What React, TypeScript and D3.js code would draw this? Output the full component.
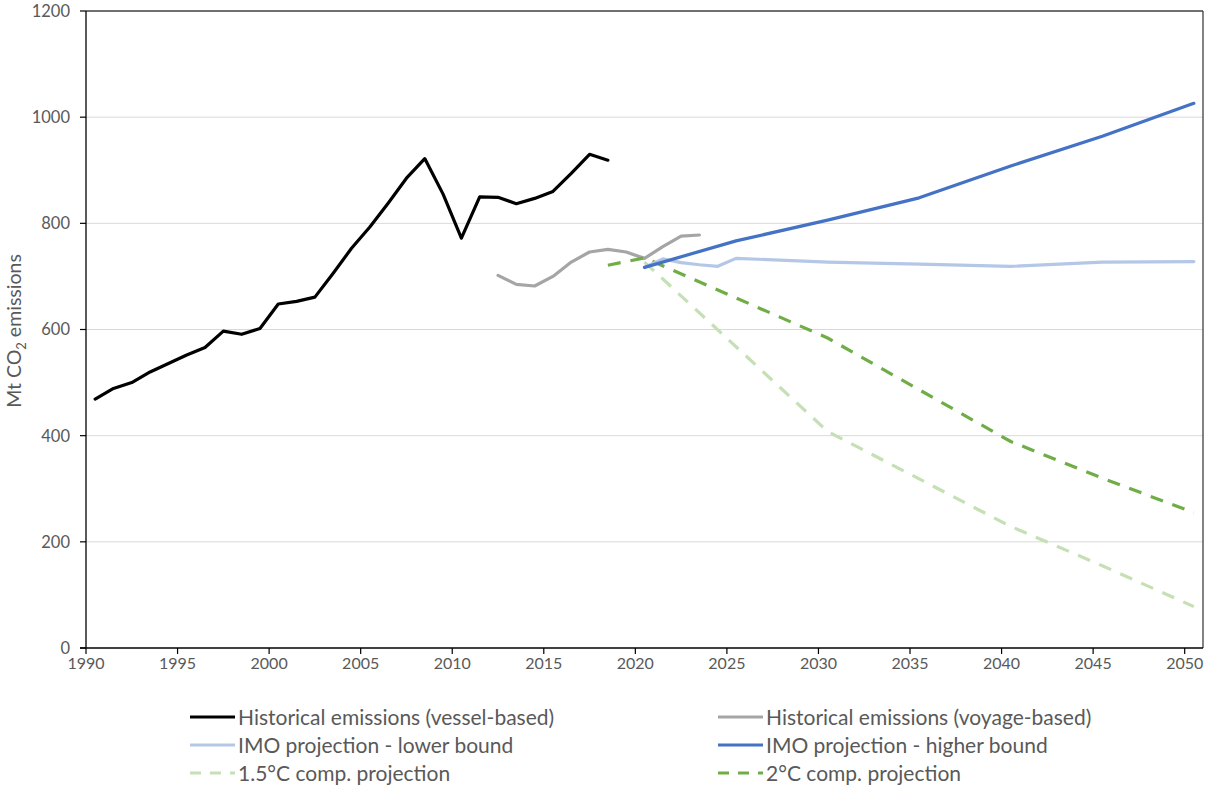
import React from "react";
import * as d3 from "d3";

type Pt = { year: number; value: number };

const vesselYears = [1990,1991,1992,1993,1994,1995,1996,1997,1998,1999,2000,2001,2002,2003,2004,2005,2006,2007,2008,2009,2010,2011,2012,2013,2014,2015,2016,2017,2018];
const vesselValues = [469,489,500,520,536,552,566,597,591,602,648,653,661,706,753,793,838,885,922,855,772,850,849,837,847,860,894,930,919];

const voyageYears = [2012,2013,2014,2015,2016,2017,2018,2019,2020,2021,2022,2023];
const voyageValues = [702,685,682,700,727,746,751,746,734,756,776,778];

const imoLowYears = [2020,2021,2022,2023,2024,2025,2030,2035,2040,2045,2050];
const imoLowValues = [717,733,726,722,719,734,727,723,719,727,728];

const imoHighYears = [2020,2025,2030,2035,2040,2045,2050];
const imoHighValues = [717,767,806,848,908,964,1026];

const c15Years = [2020,2030,2040,2045,2050];
const c15Values = [727,408,229,155,78];

const c2Years = [2018,2020,2030,2040,2045,2050];
const c2Values = [721,735,584,389,320,255];

const yTicks = [0,200,400,600,800,1000,1200];
const xTicks = [1990,1995,2000,2005,2010,2015,2020,2025,2030,2035,2040,2045,2050];

const zip = (ys: number[], vs: number[]): Pt[] => ys.map((y, i) => ({ year: y, value: vs[i] }));

const series = [
  { name: "Historical emissions (vessel-based)", data: zip(vesselYears, vesselValues), color: "#000000", dash: "", width: 3.2 },
  { name: "Historical emissions (voyage-based)", data: zip(voyageYears, voyageValues), color: "#A5A5A5", dash: "", width: 3.2 },
  { name: "IMO projection - lower bound", data: zip(imoLowYears, imoLowValues), color: "#B4C7E7", dash: "", width: 3.2 },
  { name: "IMO projection - higher bound", data: zip(imoHighYears, imoHighValues), color: "#4472C4", dash: "", width: 3.2 },
  { name: "1.5°C comp. projection", data: zip(c15Years, c15Values), color: "#C5E0B4", dash: "13,10", width: 3.2 },
  { name: "2°C comp. projection", data: zip(c2Years, c2Values), color: "#70AD47", dash: "13,10", width: 3.2 },
];

const drawOrder = [0, 1, 4, 5, 2, 3];

export default function App() {
  const W = 1217, H = 787;
  const left = 86, right = 1203, top = 11, bottom = 648;
  const x = d3.scaleLinear().domain([1990, 2051]).range([left, right]);
  const y = d3.scaleLinear().domain([0, 1200]).range([bottom, top]);
  const line = d3.line<Pt>().x(d => x(d.year + 0.5)).y(d => y(d.value));
  const font = "Lato, 'Open Sans', sans-serif";
  const txt = "#595959";

  const legendRows = [717, 745, 773];
  const legendCols = [190, 718];

  return (
    <svg width={W} height={H} style={{ position: "absolute", left: 0, top: 0, background: "#fff" }} fontFamily={font}>
      {yTicks.filter(t => t > 0 && t < 1200).map(t => (
        <line key={"g" + t} x1={left} x2={right} y1={y(t)} y2={y(t)} stroke="#D9D9D9" strokeWidth={1} />
      ))}
      <line x1={left} x2={right} y1={top} y2={top} stroke="#404040" strokeWidth={1.3} />
      <line x1={right} x2={right} y1={top} y2={bottom} stroke="#404040" strokeWidth={1.3} />
      {drawOrder.map(i => {
        const s = series[i];
        return (
          <path key={s.name} d={line(s.data) || ""} fill="none" stroke={s.color} strokeWidth={s.width}
            strokeDasharray={s.dash || undefined} strokeLinejoin="round" strokeLinecap={s.dash ? "butt" : "round"} />
        );
      })}
      <line x1={left} x2={left} y1={top} y2={bottom} stroke="#000" strokeWidth={1.3} />
      <line x1={left - 6} x2={right} y1={bottom} y2={bottom} stroke="#000" strokeWidth={1.3} />
      {yTicks.map(t => (
        <g key={"y" + t}>
          <line x1={left - 6} x2={left} y1={y(t)} y2={y(t)} stroke="#000" strokeWidth={1.2} />
          <text x={70} y={y(t)} dy="0.36em" textAnchor="end" fontSize={16.5} fill={txt}>{t}</text>
        </g>
      ))}
      {xTicks.map(t => (
        <g key={"x" + t}>
          <line x1={x(t)} x2={x(t)} y1={bottom} y2={bottom + 6} stroke="#000" strokeWidth={1.2} />
          <text x={x(t)} y={bottom + 21} textAnchor="middle" fontSize={16} fill={txt}>{t}</text>
        </g>
      ))}
      <text transform="translate(21,331) rotate(-90)" textAnchor="middle" fontSize={19.5} fill={txt}>
        Mt CO<tspan fontSize={13} dy={5}>2</tspan><tspan dy={-5}> emissions</tspan>
      </text>
      {series.map((s, i) => {
        const cx = legendCols[i % 2];
        const cy = legendRows[Math.floor(i / 2)];
        return (
          <g key={"l" + i}>
            <line x1={cx} x2={cx + 45} y1={cy} y2={cy} stroke={s.color} strokeWidth={3.2}
              strokeDasharray={s.dash ? "11,9" : undefined} />
            <text x={cx + 48} y={cy} dy="0.36em" fontSize={21} fill={txt}>{s.name}</text>
          </g>
        );
      })}
    </svg>
  );
}
